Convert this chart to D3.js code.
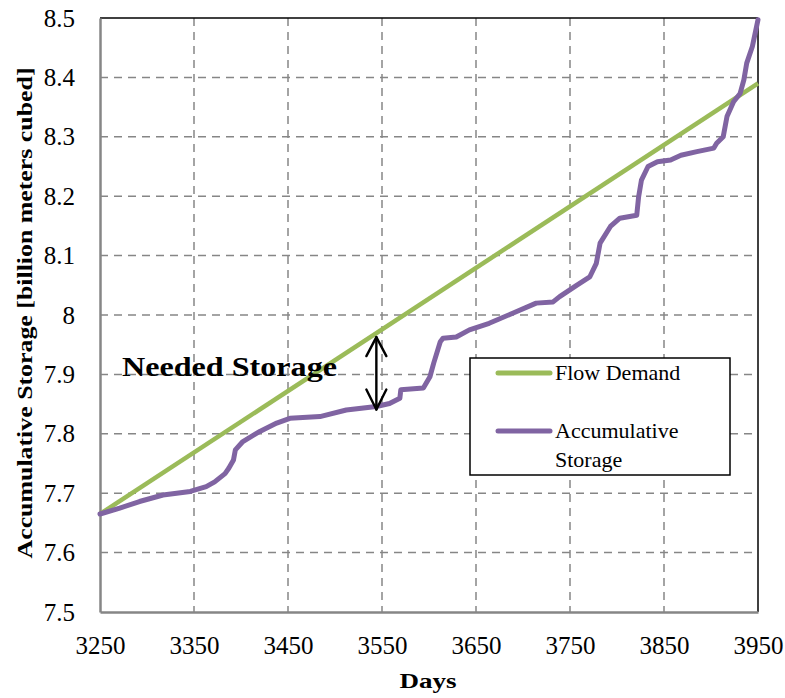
<!DOCTYPE html>
<html>
<head>
<meta charset="utf-8">
<script src="https://cdn.jsdelivr.net/npm/d3@7"></script>
<style>
  html, body { margin: 0; padding: 0; background: #fff; }
  svg { display: block; }
  svg text { font-family: "Liberation Serif", "DejaVu Serif", serif; }
</style>
</head>
<body>
<svg id="chart" width="785" height="698"></svg>
<script>
// Accumulative storage curve (days, billion m^3)
const storageDays = [3250, 3271, 3292, 3317, 3346, 3363, 3372, 3383, 3387, 3392, 3394, 3402, 3420, 3438, 3452, 3484, 3512, 3544, 3558, 3569, 3570, 3594, 3601, 3605, 3612, 3615, 3629, 3643, 3664, 3689, 3714, 3732, 3739, 3757, 3771, 3778, 3782, 3793, 3803, 3821, 3823, 3826, 3833, 3843, 3857, 3868, 3885, 3903, 3906, 3913, 3917, 3924, 3931, 3935, 3938, 3944, 3950];
const storageValues = [7.665, 7.675, 7.686, 7.697, 7.703, 7.711, 7.719, 7.733, 7.742, 7.756, 7.773, 7.787, 7.804, 7.818, 7.826, 7.829, 7.840, 7.846, 7.851, 7.860, 7.874, 7.877, 7.896, 7.919, 7.955, 7.961, 7.963, 7.975, 7.986, 8.003, 8.020, 8.022, 8.031, 8.050, 8.064, 8.087, 8.121, 8.149, 8.163, 8.168, 8.199, 8.227, 8.250, 8.258, 8.261, 8.269, 8.275, 8.281, 8.289, 8.300, 8.334, 8.359, 8.373, 8.396, 8.424, 8.452, 8.497];

// Flow demand (straight line)
const demandDays = [3250, 3950];
const demandValues = [7.665, 8.39];

// Axis ticks
const xTicks = [3250, 3350, 3450, 3550, 3650, 3750, 3850, 3950];
const yTicks = [7.5, 7.6, 7.7, 7.8, 7.9, 8, 8.1, 8.2, 8.3, 8.4, 8.5];

// Needed storage marker
const gapDay = [3544];

const serif = "'Liberation Serif', 'DejaVu Serif', serif";
const svg = d3.select("#chart");
const plotLeft = 100, plotRight = 758, plotTop = 18, plotBottom = 612;

const x = d3.scaleLinear().domain([3250, 3950]).range([plotLeft, plotRight]);
const y = d3.scaleLinear().domain([7.5, 8.5]).range([plotBottom, plotTop]);

const gridColor = "#868686";

// Grid lines
const grid = svg.append("g");
grid.selectAll("line.v").data(xTicks.slice(1, -1)).join("line")
  .attr("x1", d => x(d)).attr("x2", d => x(d))
  .attr("y1", plotTop).attr("y2", plotBottom)
  .attr("stroke", gridColor).attr("stroke-width", 1.5).attr("stroke-dasharray", "8,6");
grid.selectAll("line.h").data(yTicks.slice(1, -1)).join("line")
  .attr("x1", plotLeft).attr("x2", plotRight)
  .attr("y1", d => y(d)).attr("y2", d => y(d))
  .attr("stroke", gridColor).attr("stroke-width", 1.5).attr("stroke-dasharray", "8,6");

// Frame: top and right in black
svg.append("line").attr("x1", plotLeft).attr("x2", plotRight).attr("y1", plotTop).attr("y2", plotTop)
  .attr("stroke", "#000").attr("stroke-width", 1.5);
svg.append("line").attr("x1", plotRight).attr("x2", plotRight).attr("y1", plotTop).attr("y2", plotBottom)
  .attr("stroke", "#000").attr("stroke-width", 1.5);

// Axes
const xAxis = d3.axisBottom(x).tickValues(xTicks).tickSize(0).tickPadding(24).tickFormat(d3.format("d"));
const yAxis = d3.axisLeft(y).tickValues(yTicks).tickSize(0).tickPadding(25).tickFormat(d => String(+d.toFixed(1)));

const gx = svg.append("g").attr("transform", `translate(0,${plotBottom})`).call(xAxis);
const gy = svg.append("g").attr("transform", `translate(${plotLeft},0)`).call(yAxis);
[gx, gy].forEach(g => {
  g.attr("font-family", serif).attr("font-size", 25);
  g.select(".domain").attr("stroke", gridColor).attr("stroke-width", 2.5);
  g.selectAll("text").attr("fill", "#000");
});

// Series
const line = d3.line().x(d => x(d[0])).y(d => y(d[1]));

svg.append("path")
  .datum(demandDays.map((d, i) => [d, demandValues[i]]))
  .attr("d", line).attr("fill", "none")
  .attr("stroke", "#9BBB59").attr("stroke-width", 4.5);

svg.append("path")
  .datum(storageDays.map((d, i) => [d, storageValues[i]]))
  .attr("d", line).attr("fill", "none")
  .attr("stroke", "#8064A2").attr("stroke-width", 5)
  .attr("stroke-linejoin", "round").attr("stroke-linecap", "round");

// Needed storage double arrow
const demandAt = d => demandValues[0] + (d - demandDays[0]) * (demandValues[1] - demandValues[0]) / (demandDays[1] - demandDays[0]);
const storageAt = d3.scaleLinear().domain(storageDays).range(storageValues);
const ax = x(gapDay[0]);
const ay1 = y(demandAt(gapDay[0])) + 4;
const ay2 = y(storageAt(gapDay[0])) + 3;
const arrow = svg.append("g").attr("stroke", "#000").attr("stroke-width", 2.4).attr("fill", "none")
  .attr("stroke-linecap", "round").attr("stroke-linejoin", "round");
arrow.append("line").attr("x1", ax).attr("x2", ax).attr("y1", ay1).attr("y2", ay2);
arrow.append("path").attr("d", `M${ax - 10},${ay1 + 19} L${ax},${ay1} L${ax + 10},${ay1 + 19}`);
arrow.append("path").attr("d", `M${ax - 10},${ay2 - 20} L${ax},${ay2} L${ax + 10},${ay2 - 20}`);

svg.append("text").attr("x", 122).attr("y", 376)
  .attr("font-family", serif).attr("font-size", 27).attr("font-weight", "bold").attr("fill", "#000")
  .attr("textLength", 215).attr("lengthAdjust", "spacingAndGlyphs")
  .text("Needed Storage");

// Axis titles
svg.append("text").attr("x", 428).attr("y", 688).attr("text-anchor", "middle")
  .attr("font-family", serif).attr("font-size", 22).attr("font-weight", "bold")
  .attr("textLength", 57).attr("lengthAdjust", "spacingAndGlyphs")
  .text("Days");
svg.append("text").attr("transform", "translate(32,313) rotate(-90)").attr("text-anchor", "middle")
  .attr("font-family", serif).attr("font-size", 22).attr("font-weight", "bold")
  .attr("textLength", 491).attr("lengthAdjust", "spacingAndGlyphs")
  .text("Accumulative Storage  [billion meters cubed]");

// Legend
const lg = svg.append("g");
lg.append("rect").attr("x", 470).attr("y", 358).attr("width", 260).attr("height", 117)
  .attr("fill", "#fff").attr("stroke", "#000").attr("stroke-width", 1.5);
const legendItems = [
  { color: "#9BBB59", y: 373, lines: ["Flow Demand"] },
  { color: "#8064A2", y: 431, lines: ["Accumulative", "Storage"] }
];
legendItems.forEach(it => {
  lg.append("line").attr("x1", 498).attr("x2", 550).attr("y1", it.y).attr("y2", it.y)
    .attr("stroke", it.color).attr("stroke-width", 5).attr("stroke-linecap", "round");
  it.lines.forEach((t, i) => {
    lg.append("text").attr("x", 555).attr("y", it.y + 7 + i * 29)
      .attr("font-family", serif).attr("font-size", 22).attr("fill", "#000").text(t);
  });
});
</script>
</body>
</html>
